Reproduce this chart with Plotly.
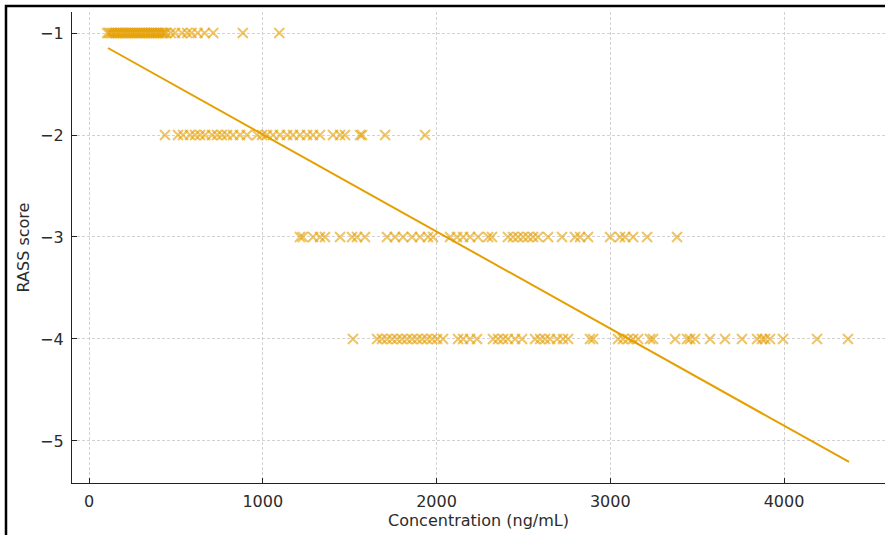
import plotly.graph_objects as go

# RASS -1 group (concentration, ng/mL)
conc_m1 = [105, 115, 125, 135, 145, 155, 165, 175, 185, 195, 205, 215, 225, 235, 245,
           255, 265, 275, 285, 295, 305, 315, 325, 335, 345, 355, 365, 375, 385, 395,
           405, 415, 425, 435, 445, 470, 495, 535, 565, 590, 625, 665, 715, 885, 1095]
# RASS -2 group
conc_m2 = [437, 512, 541, 581, 610, 639, 668, 708, 737, 765, 794, 829, 869, 909, 967,
           996, 1024, 1059, 1099, 1140, 1174, 1214, 1255, 1289, 1329, 1404, 1445, 1473,
           1560, 1571, 1704, 1934]
# RASS -3 group
conc_m3 = [1214, 1230, 1289, 1329, 1358, 1445, 1514, 1542, 1588, 1715, 1761, 1807, 1859,
           1905, 1951, 1980, 2078, 2118, 2153, 2193, 2239, 2297, 2319, 2411, 2440, 2469,
           2498, 2527, 2555, 2584, 2642, 2722, 2797, 2826, 2872, 2999, 3056, 3085, 3131,
           3212, 3384]
# RASS -4 group
conc_m4 = [1519, 1658, 1686, 1715, 1744, 1773, 1801, 1830, 1859, 1888, 1917, 1945, 1974,
           2003, 2037, 2124, 2153, 2193, 2233, 2325, 2354, 2383, 2411, 2452, 2492, 2567,
           2596, 2624, 2653, 2694, 2728, 2757, 2883, 2901, 3045, 3073, 3102, 3131, 3160,
           3229, 3246, 3373, 3442, 3459, 3488, 3574, 3660, 3758, 3845, 3873, 3891, 3919,
           3994, 4190, 4368]
rass_levels = [-1, -2, -3, -4]

# Regression line endpoints
fit_x = [109, 4374]
fit_y = [-1.147, -5.206]

x_ticks = [0, 1000, 2000, 3000, 4000]
y_ticks = [-1, -2, -3, -4, -5]

color = "#E69F00"
text_color = "#2b2b2b"
FONT = "DejaVu Sans"

all_x = []
all_y = []
for lvl, arr in zip(rass_levels, [conc_m1, conc_m2, conc_m3, conc_m4]):
    all_x += arr
    all_y += [lvl] * len(arr)

fig = go.Figure()
fig.add_trace(go.Scatter(
    x=all_x, y=all_y, mode="markers",
    marker=dict(symbol="x-thin", size=10, color=color, opacity=0.6,
                line=dict(color=color, width=2)),
    showlegend=False, hoverinfo="x+y"))
fig.add_trace(go.Scatter(
    x=fit_x, y=fit_y, mode="lines",
    line=dict(color=color, width=2), showlegend=False))

axis_common = dict(
    showgrid=True, gridcolor="#d2d2d2", griddash="3px,2px", gridwidth=0.8,
    zeroline=False, showline=True, linecolor="#222222", linewidth=1.3,
    ticks="inside", ticklen=5, tickcolor="#222222", tickwidth=1,
    tickfont=dict(family=FONT, size=16, color=text_color),
    mirror=False,
)

fig.update_xaxes(**axis_common, range=[-98, 4581], tickvals=x_ticks,
                 ticklabelstandoff=4,
                 title=dict(text="Concentration (ng/mL)", standoff=4,
                            font=dict(family=FONT, size=16, color=text_color)))
fig.update_yaxes(**axis_common, range=[-5.412, -0.794], tickvals=y_ticks,
                 ticklabelstandoff=4,
                 title=dict(text="RASS score", standoff=6,
                            font=dict(family=FONT, size=16, color=text_color)))

# screenshot frame (left and top black border)
L, R, T, B = 72, 0, 12, 52
W, H = 885, 535
pw, ph = W - L - R, H - T - B
def px(xp):
    return (xp - L) / pw
def py(yp):
    return (H - B - yp) / ph
frame_path = f"M {px(6)},{py(540)} L {px(6)},{py(6)} L {px(890)},{py(6)}"
fig.add_shape(type="path", path=frame_path, xref="paper", yref="paper",
              line=dict(color="black", width=2.5), layer="above")

fig.update_layout(
    width=W, height=H,
    margin=dict(l=L, r=R, t=T, b=B),
    paper_bgcolor="white", plot_bgcolor="white",
    font=dict(family=FONT, size=16, color=text_color),
)

fig.write_html("out.html", config={"displayModeBar": False},
               post_script="document.body.style.margin='0';document.body.style.overflow='hidden';")
